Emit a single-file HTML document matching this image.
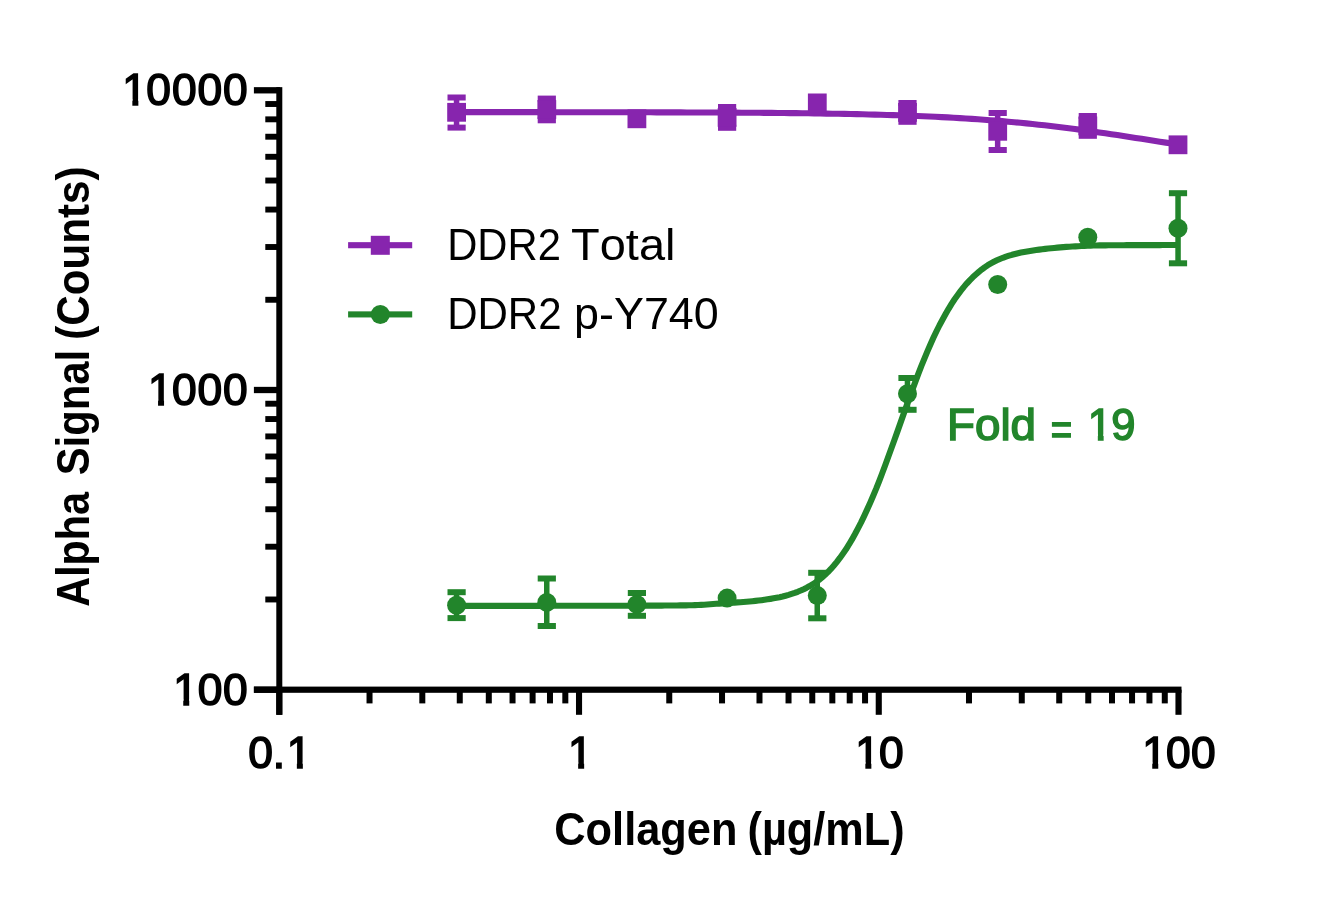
<!DOCTYPE html>
<html lang="en">
<head>
<meta charset="utf-8">
<title>DDR2 Collagen dose response</title>
<style>
html,body{margin:0;padding:0;background:#fff;}
body{width:1317px;height:902px;overflow:hidden;}
svg{display:block;}
text{font-family:"Liberation Sans",sans-serif;font-kerning:none;}
.b{font-weight:bold;}
.k{stroke:#000;stroke-width:1.6px;}
.f{stroke-width:1.5px;}
</style>
</head>
<body>
<svg width="1317" height="902" viewBox="0 0 1317 902">
<rect width="1317" height="902" fill="#ffffff"/>
<g fill="#000">
<rect x="276.30" y="87.15" width="6.0" height="627.65"/>
<rect x="253.9" y="686.60" width="927.6" height="6.2"/>
<rect x="253.9" y="686.55" width="26" height="6.3"/>
<rect x="265.3" y="596.53" width="14" height="5.9"/>
<rect x="265.3" y="543.76" width="14" height="5.9"/>
<rect x="265.3" y="506.31" width="14" height="5.9"/>
<rect x="265.3" y="477.27" width="14" height="5.9"/>
<rect x="265.3" y="453.54" width="14" height="5.9"/>
<rect x="265.3" y="433.47" width="14" height="5.9"/>
<rect x="265.3" y="416.09" width="14" height="5.9"/>
<rect x="265.3" y="400.76" width="14" height="5.9"/>
<rect x="253.9" y="386.85" width="26" height="6.3"/>
<rect x="265.3" y="296.83" width="14" height="5.9"/>
<rect x="265.3" y="244.06" width="14" height="5.9"/>
<rect x="265.3" y="206.61" width="14" height="5.9"/>
<rect x="265.3" y="177.57" width="14" height="5.9"/>
<rect x="265.3" y="153.84" width="14" height="5.9"/>
<rect x="265.3" y="133.77" width="14" height="5.9"/>
<rect x="265.3" y="116.39" width="14" height="5.9"/>
<rect x="265.3" y="101.06" width="14" height="5.9"/>
<rect x="253.9" y="87.15" width="26" height="6.3"/>
<rect x="276.25" y="689.7" width="6.1" height="25.1"/>
<rect x="366.53" y="689.7" width="6.0" height="13.7"/>
<rect x="419.31" y="689.7" width="6.0" height="13.7"/>
<rect x="456.76" y="689.7" width="6.0" height="13.7"/>
<rect x="485.80" y="689.7" width="6.0" height="13.7"/>
<rect x="509.54" y="689.7" width="6.0" height="13.7"/>
<rect x="529.60" y="689.7" width="6.0" height="13.7"/>
<rect x="546.98" y="689.7" width="6.0" height="13.7"/>
<rect x="562.32" y="689.7" width="6.0" height="13.7"/>
<rect x="575.98" y="689.7" width="6.1" height="25.1"/>
<rect x="666.26" y="689.7" width="6.0" height="13.7"/>
<rect x="719.04" y="689.7" width="6.0" height="13.7"/>
<rect x="756.49" y="689.7" width="6.0" height="13.7"/>
<rect x="785.53" y="689.7" width="6.0" height="13.7"/>
<rect x="809.27" y="689.7" width="6.0" height="13.7"/>
<rect x="829.33" y="689.7" width="6.0" height="13.7"/>
<rect x="846.71" y="689.7" width="6.0" height="13.7"/>
<rect x="862.05" y="689.7" width="6.0" height="13.7"/>
<rect x="875.71" y="689.7" width="6.1" height="25.1"/>
<rect x="965.99" y="689.7" width="6.0" height="13.7"/>
<rect x="1018.77" y="689.7" width="6.0" height="13.7"/>
<rect x="1056.22" y="689.7" width="6.0" height="13.7"/>
<rect x="1085.26" y="689.7" width="6.0" height="13.7"/>
<rect x="1109.00" y="689.7" width="6.0" height="13.7"/>
<rect x="1129.06" y="689.7" width="6.0" height="13.7"/>
<rect x="1146.44" y="689.7" width="6.0" height="13.7"/>
<rect x="1161.78" y="689.7" width="6.0" height="13.7"/>
<rect x="1175.44" y="689.7" width="6.1" height="25.1"/>
</g>
<text class="k" x="122.25" y="105" dx="0 -0.52 0.90 0.90 0.90" font-size="44.3">10000</text>
<text class="k" x="147.95" y="405" dx="0 -0.52 0.82 0.82" font-size="44.3">1000</text>
<text class="k" x="173.15" y="705" dx="0 -0.12 0.69" font-size="44.3">100</text>
<text class="k" x="248.33" y="768" dx="0 -0.22 1.70" font-size="44.3">0.1</text>
<text class="k" x="568.05" y="768" font-size="44.3">1</text>
<text class="k" x="855.25" y="768" dx="0 -1.01" font-size="44.3">10</text>
<text class="k" x="1142.15" y="768" dx="0 -0.72 0.39" font-size="44.3">100</text>
<text class="b" y="845" font-size="45.5"><tspan x="554.32" textLength="183.07" lengthAdjust="spacingAndGlyphs">Collagen</tspan> <tspan x="747.55" textLength="157.01" lengthAdjust="spacingAndGlyphs">(µg/mL)</tspan></text>
<text class="b" y="0" font-size="45.5" transform="translate(88.5,0) rotate(-90)"><tspan x="-606.63" textLength="114.57" lengthAdjust="spacingAndGlyphs">Alpha</tspan> <tspan x="-475.3" textLength="125.47" lengthAdjust="spacingAndGlyphs">Signal</tspan> <tspan x="-339.8" textLength="173.3" lengthAdjust="spacingAndGlyphs">(Counts)</tspan></text>
<text y="260" font-size="43.5" fill="#000"><tspan x="447.17" textLength="113.73" lengthAdjust="spacingAndGlyphs">DDR2</tspan> <tspan x="571.05" textLength="104.4" lengthAdjust="spacingAndGlyphs">Total</tspan></text>
<text y="329" font-size="43.5" fill="#000"><tspan x="447.15" textLength="114.36" lengthAdjust="spacingAndGlyphs">DDR2</tspan> <tspan x="574.11" textLength="144.64" lengthAdjust="spacingAndGlyphs">p-Y740</tspan></text>
<text class="f" y="440" font-size="43.5" fill="#22852B" stroke="#22852B"><tspan x="947.0" textLength="89.0" lengthAdjust="spacingAndGlyphs">Fold</tspan> <tspan x="1050.66" textLength="21.4" lengthAdjust="spacingAndGlyphs" dy="4">=</tspan> <tspan x="1087.87" dy="-4" dx="0 -0.85">19</tspan></text>
<g><rect x="123.23" y="99.09" width="9.12" height="8.21" fill="#fff"/><rect x="138.35" y="99.09" width="8.55" height="8.21" fill="#fff"/><rect x="148.93" y="399.09" width="9.12" height="8.21" fill="#fff"/><rect x="164.05" y="399.09" width="8.55" height="8.21" fill="#fff"/><rect x="174.13" y="699.09" width="9.12" height="8.21" fill="#fff"/><rect x="189.25" y="699.09" width="8.57" height="8.21" fill="#fff"/><rect x="287.73" y="762.09" width="9.12" height="8.21" fill="#fff"/><rect x="302.85" y="762.09" width="8.57" height="8.21" fill="#fff"/><rect x="569.03" y="762.09" width="9.12" height="8.21" fill="#fff"/><rect x="584.15" y="762.09" width="8.57" height="8.21" fill="#fff"/><rect x="856.23" y="762.09" width="9.12" height="8.21" fill="#fff"/><rect x="871.35" y="762.09" width="8.06" height="8.21" fill="#fff"/><rect x="1143.13" y="762.09" width="9.12" height="8.21" fill="#fff"/><rect x="1158.25" y="762.09" width="8.35" height="8.21" fill="#fff"/><rect x="1088.83" y="434.20" width="8.98" height="8.05" fill="#fff"/><rect x="1103.65" y="434.20" width="7.95" height="8.05" fill="#fff"/></g>
<g><rect x="348.1" y="242.15" width="64.1" height="6.1" fill="#8725AE"/><rect x="370.8" y="235.8" width="19" height="19" fill="#8725AE"/>
<rect x="348.1" y="311.35" width="64.1" height="6.1" fill="#22852B"/><circle cx="380.3" cy="314.5" r="9.5" fill="#22852B"/></g>
<g><path d="M456.6,112.13 L462.6,112.13 L468.7,112.14 L474.8,112.14 L480.8,112.14 L486.9,112.14 L492.9,112.14 L499.0,112.15 L505.1,112.15 L511.1,112.15 L517.2,112.16 L523.3,112.16 L529.3,112.16 L535.4,112.17 L541.4,112.17 L547.5,112.18 L553.6,112.18 L559.6,112.19 L565.7,112.19 L571.8,112.20 L577.8,112.20 L583.9,112.21 L589.9,112.22 L596.0,112.22 L602.1,112.23 L608.1,112.24 L614.2,112.25 L620.3,112.26 L626.3,112.27 L632.4,112.28 L638.4,112.29 L644.5,112.31 L650.6,112.32 L656.6,112.33 L662.7,112.35 L668.8,112.37 L674.8,112.39 L680.9,112.40 L686.9,112.43 L693.0,112.45 L699.1,112.47 L705.1,112.50 L711.2,112.52 L717.3,112.55 L723.3,112.58 L729.4,112.62 L735.4,112.65 L741.5,112.69 L747.6,112.73 L753.6,112.77 L759.7,112.82 L765.8,112.87 L771.8,112.92 L777.9,112.98 L783.9,113.04 L790.0,113.10 L796.1,113.17 L802.1,113.24 L808.2,113.32 L814.3,113.40 L820.3,113.49 L826.4,113.58 L832.4,113.68 L838.5,113.79 L844.6,113.90 L850.6,114.03 L856.7,114.16 L862.8,114.29 L868.8,114.44 L874.9,114.60 L880.9,114.76 L887.0,114.94 L893.1,115.13 L899.1,115.32 L905.2,115.54 L911.3,115.76 L917.3,116.00 L923.4,116.25 L929.4,116.52 L935.5,116.80 L941.6,117.10 L947.6,117.42 L953.7,117.75 L959.8,118.10 L965.8,118.48 L971.9,118.87 L977.9,119.28 L984.0,119.72 L990.1,120.17 L996.1,120.65 L1002.2,121.15 L1008.3,121.68 L1014.3,122.22 L1020.4,122.80 L1026.4,123.39 L1032.5,124.02 L1038.6,124.66 L1044.6,125.33 L1050.7,126.03 L1056.8,126.75 L1062.8,127.49 L1068.9,128.26 L1074.9,129.05 L1081.0,129.86 L1087.1,130.69 L1093.1,131.54 L1099.2,132.40 L1105.3,133.29 L1111.3,134.19 L1117.4,135.10 L1123.4,136.02 L1129.5,136.95 L1135.6,137.89 L1141.6,138.84 L1147.7,139.79 L1153.8,140.73 L1159.8,141.68 L1165.9,142.63 L1171.9,143.57 L1178.0,144.50" fill="none" stroke="#8725AE" stroke-width="6.1" stroke-linecap="butt" stroke-linejoin="round"/>
<rect x="453.8" y="97.5" width="5.5" height="30.1" fill="#8725AE"/><rect x="447.5" y="94.5" width="18.2" height="6.0" fill="#8725AE"/><rect x="447.5" y="124.6" width="18.2" height="6.0" fill="#8725AE"/>
<rect x="447.2" y="102.9" width="18.8" height="18.8" fill="#8725AE"/>
<rect x="544.0" y="98.6" width="5.5" height="21.7" fill="#8725AE"/><rect x="537.7" y="95.6" width="18.2" height="6.0" fill="#8725AE"/><rect x="537.7" y="117.3" width="18.2" height="6.0" fill="#8725AE"/>
<rect x="537.4" y="100.1" width="18.8" height="18.8" fill="#8725AE"/>
<rect x="627.5" y="109.4" width="18.8" height="18.8" fill="#8725AE"/>
<rect x="724.4" y="107.0" width="5.5" height="20.8" fill="#8725AE"/><rect x="718.0" y="104.0" width="18.2" height="6.0" fill="#8725AE"/><rect x="718.0" y="124.8" width="18.2" height="6.0" fill="#8725AE"/>
<rect x="717.7" y="108.0" width="18.8" height="18.8" fill="#8725AE"/>
<rect x="807.9" y="93.5" width="18.8" height="18.8" fill="#8725AE"/>
<rect x="904.7" y="103.0" width="5.5" height="18.8" fill="#8725AE"/><rect x="898.4" y="100.0" width="18.2" height="6.0" fill="#8725AE"/><rect x="898.4" y="118.8" width="18.2" height="6.0" fill="#8725AE"/>
<rect x="898.1" y="103.0" width="18.8" height="18.8" fill="#8725AE"/>
<rect x="994.9" y="113.0" width="5.5" height="37.0" fill="#8725AE"/><rect x="988.6" y="110.0" width="18.2" height="6.0" fill="#8725AE"/><rect x="988.6" y="147.0" width="18.2" height="6.0" fill="#8725AE"/>
<rect x="988.3" y="121.9" width="18.8" height="18.8" fill="#8725AE"/>
<rect x="1085.1" y="116.0" width="5.5" height="19.8" fill="#8725AE"/><rect x="1078.7" y="113.0" width="18.2" height="6.0" fill="#8725AE"/><rect x="1078.7" y="132.8" width="18.2" height="6.0" fill="#8725AE"/>
<rect x="1078.4" y="116.5" width="18.8" height="18.8" fill="#8725AE"/>
<rect x="1168.6" y="135.4" width="18.8" height="18.8" fill="#8725AE"/>
</g>
<g><path d="M456.6,605.83 L459.6,605.83 L462.6,605.83 L465.6,605.83 L468.6,605.83 L471.7,605.83 L474.7,605.83 L477.7,605.83 L480.7,605.83 L483.7,605.83 L486.8,605.83 L489.8,605.83 L492.8,605.83 L495.8,605.83 L498.8,605.83 L501.9,605.83 L504.9,605.83 L507.9,605.83 L510.9,605.83 L513.9,605.83 L516.9,605.83 L520.0,605.83 L523.0,605.83 L526.0,605.83 L529.0,605.83 L532.0,605.83 L535.1,605.83 L538.1,605.83 L541.1,605.83 L544.1,605.83 L547.1,605.83 L550.1,605.82 L553.2,605.82 L556.2,605.82 L559.2,605.82 L562.2,605.82 L565.2,605.82 L568.3,605.82 L571.3,605.81 L574.3,605.81 L577.3,605.81 L580.3,605.80 L583.4,605.80 L586.4,605.80 L589.4,605.79 L592.4,605.79 L595.4,605.78 L598.4,605.78 L601.5,605.77 L604.5,605.77 L607.5,605.76 L610.5,605.76 L613.5,605.75 L616.6,605.74 L619.6,605.74 L622.6,605.73 L625.6,605.72 L628.6,605.71 L631.7,605.71 L634.7,605.70 L637.7,605.69 L640.7,605.68 L643.7,605.67 L646.7,605.66 L649.8,605.64 L652.8,605.63 L655.8,605.61 L658.8,605.60 L661.8,605.58 L664.9,605.56 L667.9,605.53 L670.9,605.51 L673.9,605.48 L676.9,605.45 L679.9,605.42 L683.0,605.38 L686.0,605.34 L689.0,605.29 L692.0,605.24 L695.0,605.14 L698.1,605.01 L701.1,604.85 L704.1,604.67 L707.1,604.47 L710.1,604.26 L713.2,604.04 L716.2,603.82 L719.2,603.60 L722.2,603.39 L725.2,603.19 L728.2,603.00 L731.3,602.81 L734.3,602.61 L737.3,602.41 L740.3,602.20 L743.3,601.98 L746.4,601.73 L749.4,601.47 L752.4,601.19 L755.4,600.88 L758.4,600.54 L761.4,600.17 L764.5,599.78 L767.5,599.34 L770.5,598.87 L773.5,598.36 L776.5,597.79 L779.6,597.17 L782.6,596.49 L785.6,595.72 L788.6,594.88 L791.6,593.95 L794.7,592.92 L797.7,591.78 L800.7,590.52 L803.7,589.16 L806.7,587.68 L809.7,586.05 L812.8,584.26 L815.8,582.27 L818.8,580.06 L821.8,577.62 L824.8,574.96 L827.9,572.05 L830.9,568.91 L833.9,565.51 L836.9,561.86 L839.9,557.95 L842.9,553.75 L846.0,549.27 L849.0,544.48 L852.0,539.40 L855.0,534.01 L858.0,528.31 L861.1,522.31 L864.1,516.09 L867.1,509.63 L870.1,502.93 L873.1,495.94 L876.2,488.67 L879.2,481.10 L882.2,473.24 L885.2,465.21 L888.2,457.02 L891.2,448.71 L894.3,440.31 L897.3,431.86 L900.3,423.37 L903.3,414.89 L906.3,406.45 L909.4,398.07 L912.4,389.80 L915.4,381.66 L918.4,373.67 L921.4,365.90 L924.5,358.40 L927.5,351.19 L930.5,344.24 L933.5,337.57 L936.5,331.24 L939.5,325.24 L942.6,319.53 L945.6,314.06 L948.6,308.83 L951.6,303.91 L954.6,299.28 L957.7,294.95 L960.7,290.90 L963.7,287.12 L966.7,283.60 L969.7,280.32 L972.7,277.27 L975.8,274.44 L978.8,271.83 L981.8,269.43 L984.8,267.23 L987.8,265.22 L990.9,263.40 L993.9,261.77 L996.9,260.29 L999.9,258.96 L1002.9,257.76 L1006.0,256.67 L1009.0,255.69 L1012.0,254.80 L1015.0,253.99 L1018.0,253.26 L1021.0,252.58 L1024.1,251.97 L1027.1,251.41 L1030.1,250.89 L1033.1,250.42 L1036.1,249.99 L1039.2,249.60 L1042.2,249.24 L1045.2,248.90 L1048.2,248.56 L1051.2,248.23 L1054.2,247.92 L1057.3,247.63 L1060.3,247.36 L1063.3,247.12 L1066.3,246.91 L1069.3,246.72 L1072.4,246.54 L1075.4,246.37 L1078.4,246.20 L1081.4,246.05 L1084.4,245.92 L1087.5,245.79 L1090.5,245.67 L1093.5,245.57 L1096.5,245.49 L1099.5,245.42 L1102.5,245.36 L1105.6,245.33 L1108.6,245.30 L1111.6,245.27 L1114.6,245.24 L1117.6,245.22 L1120.7,245.20 L1123.7,245.19 L1126.7,245.17 L1129.7,245.16 L1132.7,245.14 L1135.8,245.13 L1138.8,245.12 L1141.8,245.11 L1144.8,245.11 L1147.8,245.10 L1150.8,245.09 L1153.9,245.09 L1156.9,245.08 L1159.9,245.08 L1162.9,245.07 L1165.9,245.07 L1169.0,245.07 L1172.0,245.06 L1175.0,245.06 L1178.0,245.06" fill="none" stroke="#22852B" stroke-width="6.1" stroke-linecap="butt" stroke-linejoin="round"/>
<rect x="453.8" y="592.2" width="5.5" height="25.9" fill="#22852B"/><rect x="447.5" y="589.2" width="18.2" height="6.0" fill="#22852B"/><rect x="447.5" y="615.1" width="18.2" height="6.0" fill="#22852B"/>
<circle cx="456.6" cy="605.2" r="9.5" fill="#22852B"/>
<rect x="544.0" y="578.5" width="5.5" height="47.5" fill="#22852B"/><rect x="537.7" y="575.5" width="18.2" height="6.0" fill="#22852B"/><rect x="537.7" y="623.0" width="18.2" height="6.0" fill="#22852B"/>
<circle cx="546.8" cy="602.4" r="9.5" fill="#22852B"/>
<rect x="634.2" y="593.0" width="5.5" height="22.8" fill="#22852B"/><rect x="627.8" y="590.0" width="18.2" height="6.0" fill="#22852B"/><rect x="627.8" y="612.8" width="18.2" height="6.0" fill="#22852B"/>
<circle cx="636.9" cy="604.4" r="9.5" fill="#22852B"/>
<circle cx="727.1" cy="598.1" r="9.5" fill="#22852B"/>
<rect x="814.5" y="572.8" width="5.5" height="45.5" fill="#22852B"/><rect x="808.2" y="569.8" width="18.2" height="6.0" fill="#22852B"/><rect x="808.2" y="615.3" width="18.2" height="6.0" fill="#22852B"/>
<circle cx="817.3" cy="595.6" r="9.5" fill="#22852B"/>
<rect x="904.7" y="378.0" width="5.5" height="31.8" fill="#22852B"/><rect x="898.4" y="375.0" width="18.2" height="6.0" fill="#22852B"/><rect x="898.4" y="406.8" width="18.2" height="6.0" fill="#22852B"/>
<circle cx="907.5" cy="393.7" r="9.5" fill="#22852B"/>
<circle cx="997.7" cy="284.5" r="9.5" fill="#22852B"/>
<circle cx="1087.8" cy="237.2" r="9.5" fill="#22852B"/>
<rect x="1175.3" y="193.2" width="5.5" height="70.1" fill="#22852B"/><rect x="1168.9" y="190.2" width="18.2" height="6.0" fill="#22852B"/><rect x="1168.9" y="260.3" width="18.2" height="6.0" fill="#22852B"/>
<circle cx="1178.0" cy="228.2" r="9.5" fill="#22852B"/>
</g>
</svg>
</body>
</html>
